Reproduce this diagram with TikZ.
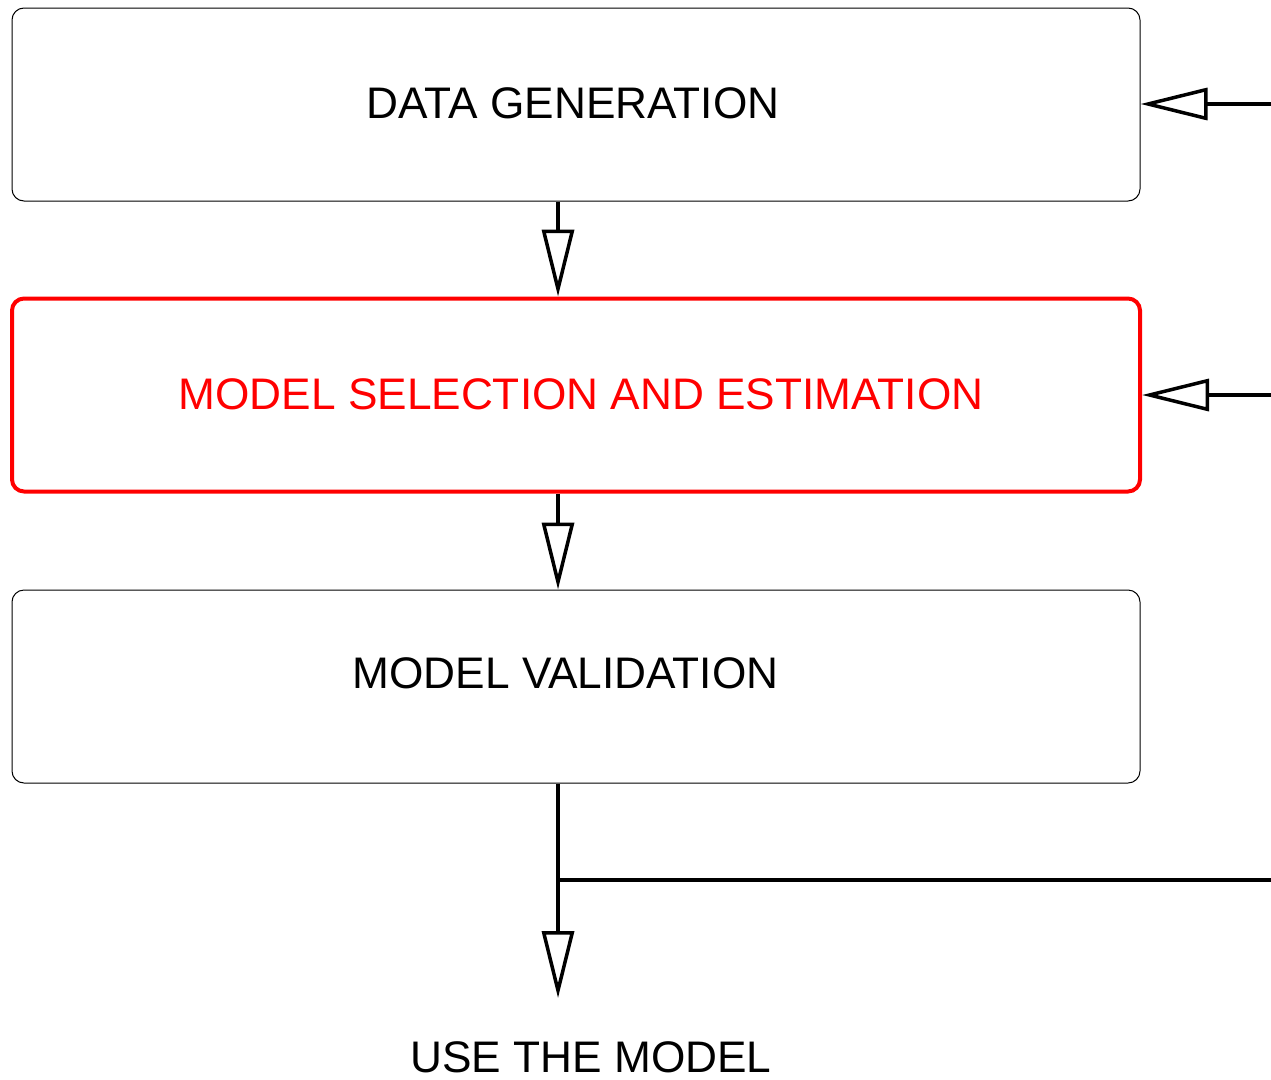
\documentclass[tikz,border=0pt]{standalone}
\usepackage{fontspec}
\setmainfont{Liberation Sans}
\usetikzlibrary{arrows.meta}
\begin{document}
\begin{tikzpicture}[x=1pt,y=-1pt,
  box/.style={draw=black, line width=1pt, rounded corners=12pt, minimum width=1128pt, minimum height=193pt, inner sep=0pt},
  redbox/.style={box, draw=red, line width=4pt},
  lbl/.style={anchor=base, inner sep=0pt, text depth=0pt, font=\fontsize{44.2}{52}\selectfont},
  flow/.style={line width=3.5pt, -{Triangle[open, length=67pt, width=32pt, line width=3.5pt]}},
  feed/.style={line width=3.5pt}]
\useasboundingbox (0,0) rectangle (1271,1079);
\clip (0,0) rectangle (1271,1079);
\node[box] (gen) at (576,104.5) {};
\node[redbox] (est) at (576,395) {};
\node[box] (val) at (576,686.5) {};
\node[lbl] (tgen) at (573,118) {DATA GENERATION};
\node[lbl, text=red] (test) at (581,409) {MODEL SELECTION AND ESTIMATION};
\node[lbl] (tval) at (565.5,688) {MODEL VALIDATION};
\node[lbl] (use) at (591,1072) {USE THE MODEL};
\coordinate (useTop) at (558,998);
\coordinate (branch) at (558,880);
\coordinate (far) at (1300,880);
\coordinate (r1) at (1300,104);
\coordinate (r2) at (1300,395);
\draw[flow] (gen.south -| 558,0) -- (est.north -| 558,0);
\draw[flow] (est.south -| 558,0) -- (val.north -| 558,0);
\draw[flow] (val.south -| 558,0) -- (useTop);
\draw[feed] (branch) -- (far) -- (r1);
\draw[flow] (r1) -- (r1 -| gen.east);
\draw[flow] (r2) -- (r2 -| est.east);
\end{tikzpicture}
\end{document}
